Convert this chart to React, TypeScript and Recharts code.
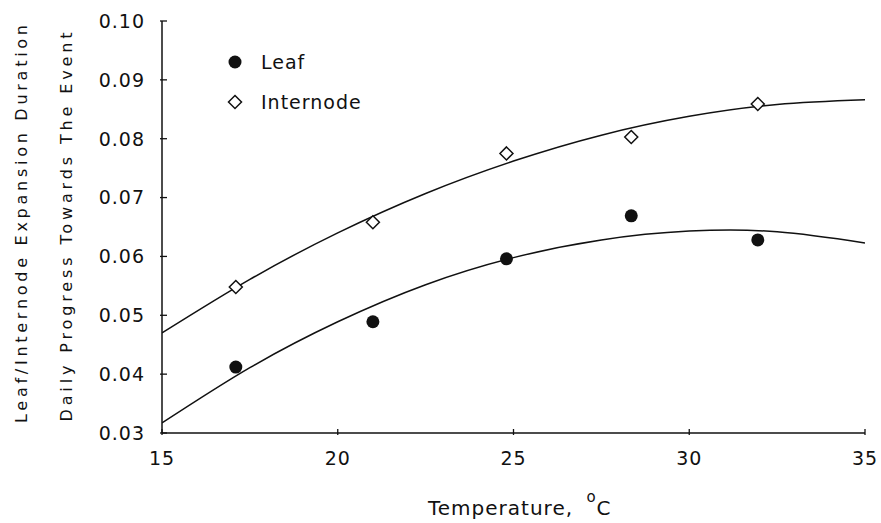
import React from "react";
import {
  ComposedChart,
  Line,
  Scatter,
  XAxis,
  YAxis,
  Legend,
} from "recharts";

const xTicks = [15, 20, 25, 30, 35];
const yTicks = [0.03, 0.04, 0.05, 0.06, 0.07, 0.08, 0.09, 0.1];

const tempObs = [17.1, 21.0, 24.8, 28.35, 31.95];
const leafObs = [0.0412, 0.0489, 0.0596, 0.0669, 0.0628];
const internodeObs = [0.0548, 0.0658, 0.0775, 0.0803, 0.0859];

// fitted curves
const tempFit = [15, 17.5, 20, 22.5, 25, 27.5, 30, 32.5, 35];
const leafFit = [0.0317, 0.0411, 0.0489, 0.0552, 0.0598, 0.0628, 0.0643, 0.0642, 0.0623];
const internodeFit = [0.047, 0.0561, 0.064, 0.0707, 0.0762, 0.0806, 0.0838, 0.0858, 0.0866];

const leafPts = tempObs.map((x, i) => ({ x, y: leafObs[i] }));
const internodePts = tempObs.map((x, i) => ({ x, y: internodeObs[i] }));
const leafLine = tempFit.map((x, i) => ({ x, y: leafFit[i] }));
const internodeLine = tempFit.map((x, i) => ({ x, y: internodeFit[i] }));

const FONT = "'DejaVu Sans', sans-serif";
const INK = "#111";

const Dot = (p: any) => <circle cx={p.cx} cy={p.cy} r={6.5} fill={INK} />;
const Diamond = (p: any) => (
  <polygon
    points={`${p.cx},${p.cy - 6.5} ${p.cx + 6.5},${p.cy} ${p.cx},${p.cy + 6.5} ${p.cx - 6.5},${p.cy}`}
    fill="#fff"
    stroke={INK}
    strokeWidth={1.5}
  />
);

const BottomTick = (p: any) => (
  <g>
    <line x1={p.x} x2={p.x} y1={p.y} y2={p.y - 6} stroke={INK} strokeWidth={1.3} />
    <text x={p.x} y={p.y + 30} textAnchor="middle" fontFamily={FONT} fontSize={19} letterSpacing={1} fill={INK}>
      {p.payload.value}
    </text>
  </g>
);
const LeftTick = (p: any) => (
  <g>
    <line x1={p.x} x2={p.x + 7} y1={p.y} y2={p.y} stroke={INK} strokeWidth={1.3} />
    <text x={p.x - 15} y={p.y} dy="0.36em" textAnchor="end" fontFamily={FONT} fontSize={19} letterSpacing={1} fill={INK}>
      {p.payload.value.toFixed(2)}
    </text>
  </g>
);
const TopTick = (p: any) => <line x1={p.x} x2={p.x} y1={p.y} y2={p.y + 6} stroke={INK} strokeWidth={1.3} />;
const RightTick = (p: any) => <line x1={p.x} x2={p.x - 7} y1={p.y} y2={p.y} stroke={INK} strokeWidth={1.3} />;

const YTitle = () => (
  <g fontFamily={FONT} fontSize={16} fill={INK}>
    <text transform="translate(27,224) rotate(-90)" textAnchor="middle" textLength={398} lengthAdjust="spacing">
      Leaf/Internode Expansion Duration
    </text>
    <text transform="translate(72,227) rotate(-90)" textAnchor="middle" textLength={389} lengthAdjust="spacing">
      Daily Progress Towards The Event
    </text>
  </g>
);

const XTitle = () => (
  <text x={428} y={515} fontFamily={FONT} fontSize={20} letterSpacing={1} fill={INK}>
    Temperature,{" "}
    <tspan dx={6} dy={-13} fontSize={15}>o</tspan>
    <tspan dy={13}>C</tspan>
  </text>
);

const series = [
  { name: "Leaf", marker: "dot" },
  { name: "Internode", marker: "diamond" },
];

const LegendBox = () => (
  <div style={{ fontFamily: FONT, fontSize: 19, letterSpacing: 1, color: INK }}>
    {series.map((s) => (
      <div key={s.name} style={{ display: "flex", alignItems: "center", height: 40 }}>
        <svg width={16} height={16} style={{ marginRight: 18 }}>
          {s.marker === "dot" ? <Dot cx={8} cy={8} /> : <Diamond cx={8} cy={8} />}
        </svg>
        <span>{s.name}</span>
      </div>
    ))}
  </div>
);

export default function App() {
  return (
    <div style={{ position: "absolute", left: 0, top: 0, width: 881, height: 523, background: "#fff" }}>
      <ComposedChart width={881} height={523} margin={{ top: 21, right: 16, bottom: 30, left: 2 }}>
        <XAxis
          dataKey="x"
          type="number"
          domain={[15, 35]}
          ticks={xTicks}
          allowDataOverflow
          height={60}
          tickLine={false}
          tickSize={0}
          tick={<BottomTick />}
          axisLine={{ stroke: INK, strokeWidth: 1.5 }}
          label={{ content: () => <XTitle /> }}
        />
        <XAxis
          xAxisId="top"
          orientation="top"
          dataKey="x"
          type="number"
          domain={[15, 35]}
          ticks={xTicks}
          height={0}
          tickLine={false}
          tickSize={0}
          tick={<TopTick />}
          axisLine={{ stroke: INK, strokeWidth: 1.5 }}
        />
        <YAxis
          type="number"
          domain={[0.03, 0.1]}
          ticks={yTicks}
          allowDataOverflow
          width={160}
          tickLine={false}
          tickSize={0}
          tick={<LeftTick />}
          axisLine={{ stroke: INK, strokeWidth: 1.5 }}
          label={{ content: () => <YTitle /> }}
        />
        <YAxis
          yAxisId="right"
          orientation="right"
          type="number"
          domain={[0.03, 0.1]}
          ticks={yTicks}
          width={0}
          tickLine={false}
          tickSize={0}
          tick={<RightTick />}
          axisLine={{ stroke: INK, strokeWidth: 1.5 }}
        />
        <Legend
          layout="vertical"
          align="center"
          verticalAlign="middle"
          content={() => <LegendBox />}
          wrapperStyle={{ left: 227, top: 42, width: 160, height: 80 }}
        />
        <Line data={internodeLine} dataKey="y" type="natural" stroke={INK} strokeWidth={1.5} dot={false} isAnimationActive={false} legendType="none" />
        <Line data={leafLine} dataKey="y" type="natural" stroke={INK} strokeWidth={1.5} dot={false} isAnimationActive={false} legendType="none" />
        <Scatter name="Leaf" data={leafPts} dataKey="y" shape={Dot} isAnimationActive={false} />
        <Scatter name="Internode" data={internodePts} dataKey="y" shape={Diamond} isAnimationActive={false} />
      </ComposedChart>
    </div>
  );
}
